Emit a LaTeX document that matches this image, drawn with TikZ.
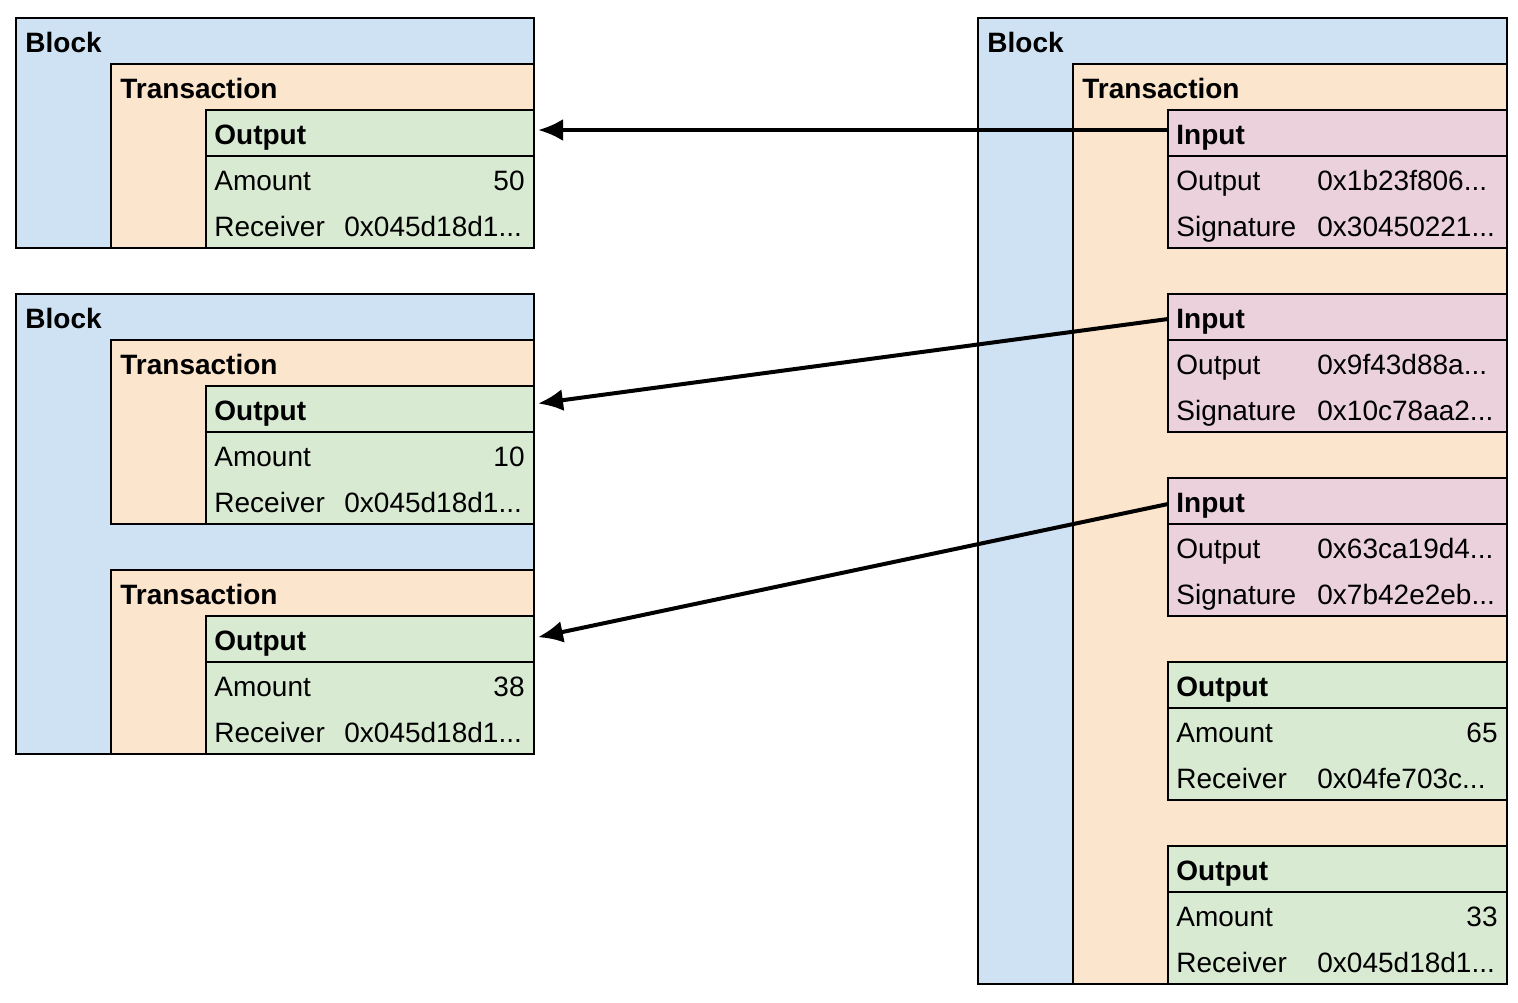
\documentclass[tikz,border=0pt]{standalone}
\usepackage{fontspec}
\setmainfont{Liberation Sans}
\usetikzlibrary{arrows.meta}
\definecolor{blockblue}{HTML}{CFE2F3}
\definecolor{txorange}{HTML}{FCE5CD}
\definecolor{outgreen}{HTML}{D9EAD3}
\definecolor{inpink}{HTML}{EAD1DC}
\tikzset{>={Latex[length=12.5pt,width=11pt]}}
\tikzset{box/.style={draw, line width=1pt},
  txt/.style={inner sep=0pt, anchor=base west, font=\fontsize{14}{16}\selectfont},
  num/.style={txt, anchor=base east},
  link/.style={->, line width=2pt, shorten >=2pt}}

\begin{document}
\begin{tikzpicture}[x=0.5pt, y=-0.5pt]
\useasboundingbox (0,0) rectangle (1518,1002);
% left, first block
\draw[box, fill=blockblue] (16,18) rectangle (534,248);
\node[txt] (blkA) at (25,52) {\textbf{Block}};
\draw[box, fill=txorange] (111,64) rectangle (534,248);
\node[txt] (txA) at (120,98) {\textbf{Transaction}};
\draw[box, fill=outgreen] (206,110) rectangle (534,248);
\draw[box] (206,156) -- (534,156);
\node[txt] (outA) at (214,144) {\textbf{Output}};
\node[txt] (outAam) at (214,190) {Amount};
\node[num] (outAamv) at (525,190) {50};
\node[txt] (outArc) at (214,236) {Receiver};
\node[txt] (outArcv) at (344,236) {0x045d18d1...};
\coordinate (outAe) at (534,130);
% left, second block
\draw[box, fill=blockblue] (16,294) rectangle (534,754);
\node[txt] (blkB) at (25,328) {\textbf{Block}};
\draw[box, fill=txorange] (111,340) rectangle (534,524);
\node[txt] (txB) at (120,374) {\textbf{Transaction}};
\draw[box, fill=outgreen] (206,386) rectangle (534,524);
\draw[box] (206,432) -- (534,432);
\node[txt] (outB) at (214,420) {\textbf{Output}};
\node[txt] (outBam) at (214,466) {Amount};
\node[num] (outBamv) at (525,466) {10};
\node[txt] (outBrc) at (214,512) {Receiver};
\node[txt] (outBrcv) at (344,512) {0x045d18d1...};
\coordinate (outBe) at (534,404);
\draw[box, fill=txorange] (111,570) rectangle (534,754);
\node[txt] (txC) at (120,604) {\textbf{Transaction}};
\draw[box, fill=outgreen] (206,616) rectangle (534,754);
\draw[box] (206,662) -- (534,662);
\node[txt] (outC) at (214,650) {\textbf{Output}};
\node[txt] (outCam) at (214,696) {Amount};
\node[num] (outCamv) at (525,696) {38};
\node[txt] (outCrc) at (214,742) {Receiver};
\node[txt] (outCrcv) at (344,742) {0x045d18d1...};
\coordinate (outCe) at (534,638);
% right block
\draw[box, fill=blockblue] (978,18) rectangle (1507,984);
\node[txt] (blkR) at (987,52) {\textbf{Block}};
\draw[box, fill=txorange] (1073,64) rectangle (1507,984);
\node[txt] (txR) at (1082,98) {\textbf{Transaction}};
% inputs
\draw[box, fill=inpink] (1168,110) rectangle (1507,248);
\draw[box] (1168,156) -- (1507,156);
\node[txt] (inA) at (1176,144) {\textbf{Input}};
\node[txt] (inAo) at (1176,190) {Output};
\node[txt] (inAov) at (1317,190) {0x1b23f806...};
\node[txt] (inAs) at (1176,236) {Signature};
\node[txt] (inAsv) at (1317,236) {0x30450221...};
\coordinate (inAw) at (1168,130);
\draw[box, fill=inpink] (1168,294) rectangle (1507,432);
\draw[box] (1168,340) -- (1507,340);
\node[txt] (inB) at (1176,328) {\textbf{Input}};
\node[txt] (inBo) at (1176,374) {Output};
\node[txt] (inBov) at (1317,374) {0x9f43d88a...};
\node[txt] (inBs) at (1176,420) {Signature};
\node[txt] (inBsv) at (1317,420) {0x10c78aa2...};
\coordinate (inBw) at (1168,319);
\draw[box, fill=inpink] (1168,478) rectangle (1507,616);
\draw[box] (1168,524) -- (1507,524);
\node[txt] (inC) at (1176,512) {\textbf{Input}};
\node[txt] (inCo) at (1176,558) {Output};
\node[txt] (inCov) at (1317,558) {0x63ca19d4...};
\node[txt] (inCs) at (1176,604) {Signature};
\node[txt] (inCsv) at (1317,604) {0x7b42e2eb...};
\coordinate (inCw) at (1168,504);
% outputs
\draw[box, fill=outgreen] (1168,662) rectangle (1507,800);
\draw[box] (1168,708) -- (1507,708);
\node[txt] (outD) at (1176,696) {\textbf{Output}};
\node[txt] (outDam) at (1176,742) {Amount};
\node[num] (outDamv) at (1498,742) {65};
\node[txt] (outDrc) at (1176,788) {Receiver};
\node[txt] (outDrcv) at (1317,788) {0x04fe703c...};
\draw[box, fill=outgreen] (1168,846) rectangle (1507,984);
\draw[box] (1168,892) -- (1507,892);
\node[txt] (outE) at (1176,880) {\textbf{Output}};
\node[txt] (outEam) at (1176,926) {Amount};
\node[num] (outEamv) at (1498,926) {33};
\node[txt] (outErc) at (1176,972) {Receiver};
\node[txt] (outErcv) at (1317,972) {0x045d18d1...};
% links
\draw[link] (inAw) -- (outAe);
\draw[link] (inBw) -- (outBe);
\draw[link] (inCw) -- (outCe);
\end{tikzpicture}
\end{document}
